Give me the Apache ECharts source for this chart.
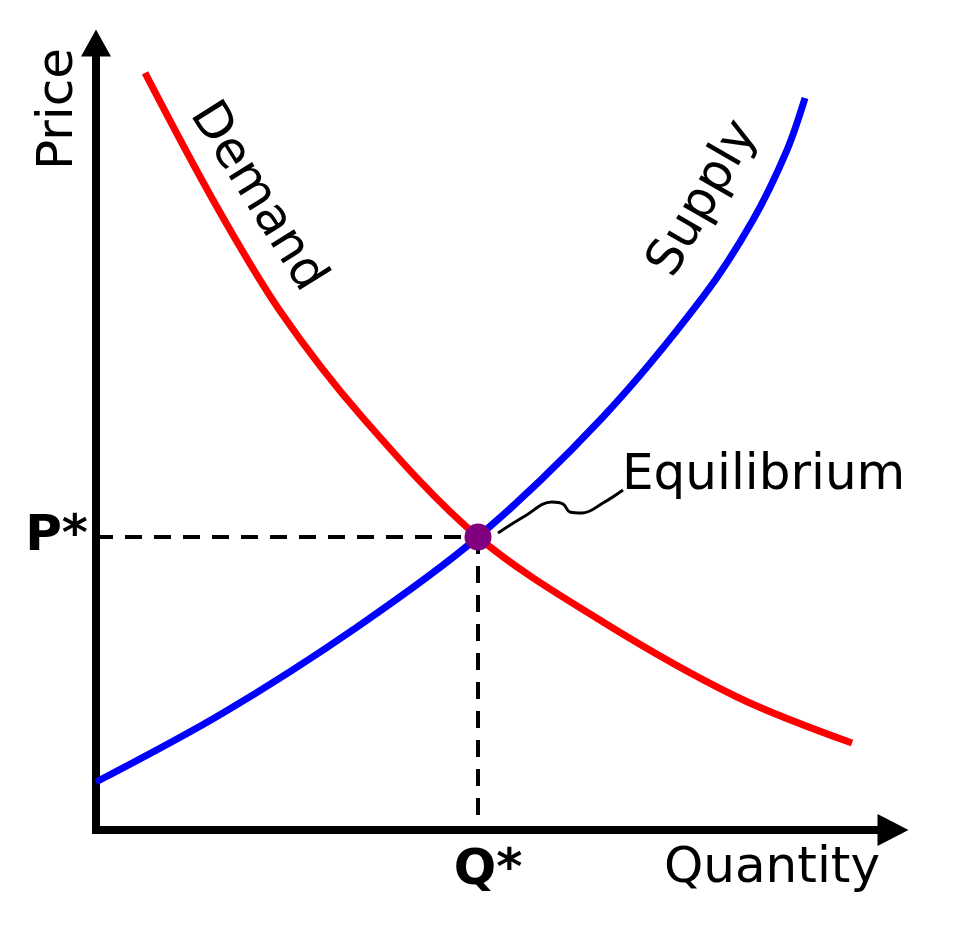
<!DOCTYPE html>
<html><head><meta charset="utf-8">
<script src="https://cdn.jsdelivr.net/npm/echarts@6/dist/echarts.min.js"></script>
<style>html,body{margin:0;padding:0;background:#fff}#c{width:976px;height:926px}</style>
</head><body><div id="c"></div>
<script>
const demandQ = [6.15,14.68,23.09,33.5,47.93,63.61,80.43,94.86];
const demandP = [96.19,80.05,65.95,52.35,37.23,26.43,16.9,11.05];
const supplyQ = [0,15.93,32.75,47.93,63.61,76.16,82.43,86.7,88.96];
const supplyP = [6.1,14.87,25.79,37.23,52.48,67.73,77.51,86.4,93.01];
const eqQ = 47.93, eqP = 37.23;
const leaderQ = [50.44,53.83,57.21,58.6,59.47,60.98,63.61,66.12];
const leaderP = [37.74,39.9,41.68,41.42,40.41,40.28,41.55,43.2];
const axisNames = ['Quantity','Price'];
const tickLabels = ['Q*','P*'];
const curveLabels = ['Demand','Supply','Equilibrium'];
const curveLabelQ = [20.2, 76.29, 66.0];
const curveLabelP = [80.43, 80.18, 45.0];

const zip = (a, b) => a.map((v, i) => [v, b[i]]);
const FONT = 'DejaVu Sans';
const chart = echarts.init(document.getElementById('c'), null, {renderer: 'canvas'});
const labelRot = [-58, 60, 0];
const labelAlign = ['center', 'center', 'left'];

chart.setOption({
  animation: false,
  backgroundColor: '#fff',
  grid: {left: 96, right: 83, top: 43, bottom: 96, containLabel: false, outerBoundsMode: 'none'},
  xAxis: {
    type: 'value', min: 0, max: 100,
    name: axisNames[0], nameLocation: 'end', nameGap: -13,
    nameTextStyle: {fontFamily: FONT, fontSize: 50, color: '#000000', align: 'right', verticalAlign: 'top', padding: [14, 0, 0, 0]},
    axisLine: {show: true, symbol: ['none', 'triangle'], symbolSize: [32, 31], lineStyle: {color: '#000', width: 8, cap: 'square'}},
    axisTick: {show: false}, splitLine: {show: false},
    axisLabel: {show: true, customValues: [eqQ], formatter: () => tickLabels[0], fontFamily: FONT, fontSize: 50, fontWeight: 'bold', color: '#000000', margin: 16, padding: [0, 0, 0, 20]}
  },
  yAxis: {
    type: 'value', min: 0, max: 100,
    name: axisNames[1], nameLocation: 'end', nameGap: -5, nameRotate: 90,
    nameTextStyle: {fontFamily: FONT, fontSize: 50, color: '#000000', align: 'right', verticalAlign: 'bottom', padding: [0, 0, 12, 0]},
    axisLine: {show: true, symbol: ['none', 'triangle'], symbolSize: [30, 27], lineStyle: {color: '#000', width: 8, cap: 'square'}},
    axisTick: {show: false}, splitLine: {show: false},
    axisLabel: {show: true, customValues: [eqP], formatter: () => tickLabels[1], fontFamily: FONT, fontSize: 50, fontWeight: 'bold', color: '#000000', margin: 8}
  },
  series: [
    {type: 'line', z: 2, data: [[0, eqP], [eqQ, eqP]], symbol: 'none', lineStyle: {color: '#000', width: 4, type: [17, 12]}, silent: true},
    {type: 'line', z: 2, data: [[eqQ, eqP], [eqQ, 0]], symbol: 'none', lineStyle: {color: '#000', width: 4, type: [17, 12]}, silent: true},
    {type: 'line', z: 3, name: 'Demand', data: zip(demandQ, demandP), smooth: 0.33, symbol: 'none', lineStyle: {color: '#ff0000', width: 7}},
    {type: 'line', z: 3, name: 'Supply', data: zip(supplyQ, supplyP), smooth: 0.33, symbol: 'none', lineStyle: {color: '#0000ff', width: 7}},
    {type: 'line', z: 3, data: zip(leaderQ, leaderP), smooth: 0.4, symbol: 'none', lineStyle: {color: '#000', width: 3}},
    {type: 'scatter', z: 10, data: [[eqQ, eqP]], symbol: 'circle', symbolSize: 27, itemStyle: {color: '#800080', opacity: 1}},
    {type: 'scatter', z: 10, symbolSize: 0, silent: true, itemStyle: {opacity: 0},
      data: curveLabels.map((t, i) => ({
        value: [curveLabelQ[i], curveLabelP[i]],
        label: {show: true, formatter: t, rotate: labelRot[i], position: 'inside', align: labelAlign[i], verticalAlign: 'middle',
          fontFamily: FONT, fontSize: 50, color: '#000000', opacity: 1, textBorderWidth: 0, textShadowBlur: 0}
      }))
    }
  ]
});
</script></body></html>
